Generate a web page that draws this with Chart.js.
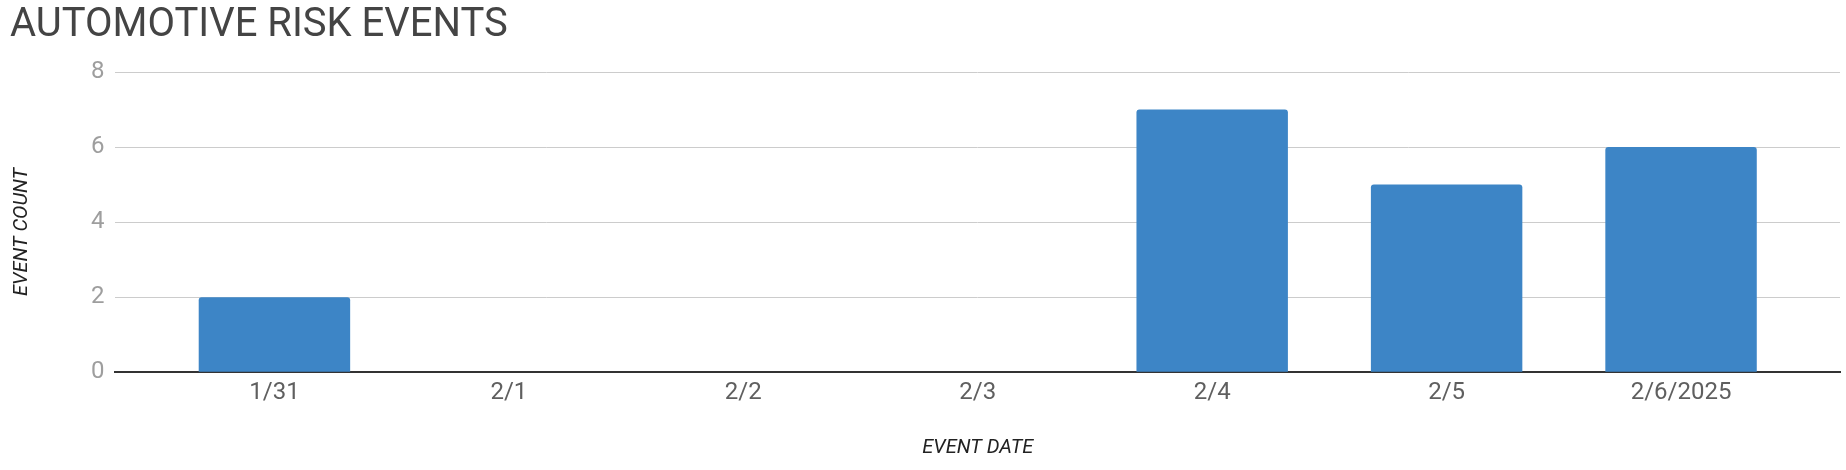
<!DOCTYPE html>
<html>
<head>
<meta charset="utf-8">
<script src="https://cdn.jsdelivr.net/npm/chart.js@4/dist/chart.umd.min.js"></script>
<style>
  html, body { margin: 0; padding: 0; background: #ffffff; }
  #wrap { width: 1846px; height: 470px; position: relative; }
</style>
</head>
<body>
<div id="wrap"><canvas id="c" width="1846" height="470"></canvas></div>
<script>
const categories = ['1/31', '2/1', '2/2', '2/3', '2/4', '2/5', '2/6/2025'];
const eventCounts = [2, 0, 0, 0, 7, 5, 6];
const yTicks = [0, 2, 4, 6, 8];

const points = categories.map((c, i) => ({ x: i, y: eventCounts[i] }));

new Chart(document.getElementById('c'), {
  type: 'bar',
  data: {
    datasets: [{
      label: 'EVENT COUNT',
      data: points,
      backgroundColor: '#3d85c6',
      borderWidth: 0,
      borderRadius: { topLeft: 3, topRight: 3, bottomLeft: 0, bottomRight: 0 },
      borderSkipped: false,
      barPercentage: 0.646,
      categoryPercentage: 1.0
    }]
  },
  options: {
    responsive: false,
    animation: false,
    layout: { padding: { left: 10, right: 6, top: 2, bottom: 10 } },
    plugins: {
      legend: { display: false },
      tooltip: { enabled: false },
      title: {
        display: true,
        text: 'AUTOMOTIVE RISK EVENTS',
        align: 'start',
        color: '#444444',
        font: { family: 'Roboto', size: 40, weight: 'normal' },
        padding: { top: 0, bottom: 22 }
      }
    },
    scales: {
      x: {
        type: 'linear',
        offset: false,
        min: -0.678,
        max: 6.678,
        grid: { display: false, offset: false },
        border: { display: true, color: '#333333', width: 2 },
        ticks: {
          stepSize: 1,
          includeBounds: false,
          autoSkip: false,
          maxRotation: 0,
          color: '#5f5f5f',
          padding: -2,
          font: { family: 'Roboto', size: 24 },
          callback: (v) => categories[v] !== undefined ? categories[v] : ''
        },
        title: {
          display: true,
          text: 'EVENT DATE',
          color: '#222222',
          font: { family: 'Roboto', size: 20, style: 'italic' },
          padding: { top: 31, bottom: 0 }
        }
      },
      y: {
        min: 0,
        max: 8,
        afterBuildTicks: (scale) => { scale.ticks = yTicks.map(v => ({ value: v })); },
        grid: { color: '#cccccc', lineWidth: 1, drawTicks: false },
        border: { display: false },
        ticks: {
          color: '#9e9e9e',
          padding: 11,
          font: { family: 'Roboto', size: 24 }
        },
        title: {
          display: true,
          text: 'EVENT COUNT    ',
          color: '#222222',
          font: { family: 'Roboto', size: 20, style: 'italic' },
          padding: { top: 0, bottom: 46 }
        }
      }
    }
  }
});
</script>
</body>
</html>
